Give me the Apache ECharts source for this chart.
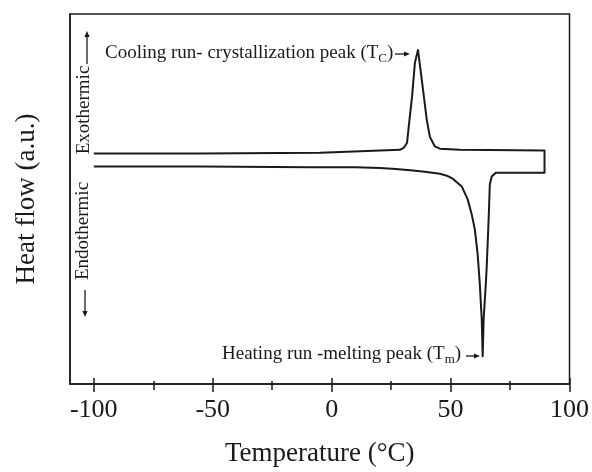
<!DOCTYPE html>
<html><head><meta charset="utf-8">
<script src="https://cdn.jsdelivr.net/npm/echarts@6/dist/echarts.min.js"></script>
<style>html,body{margin:0;padding:0;background:#fff}#c{width:592px;height:472px}</style>
</head><body><div id="c"></div>
<script>
// Heating run (lower trace), temperature in °C, heat flow in a.u.
const heatT  = [-100, -55.1, -9.0, 10.0, 20.3, 27.0, 34.2, 40.0, 45.5, 48.4, 50.9, 54.7, 57.2, 58.9, 60.2, 61.4, 62.3, 63.1, 63.5, 63.9, 64.8, 65.2, 66.0, 66.5, 67.3, 69.0, 89.5];
const heatHF = [58.8, 58.8, 58.6, 58.55, 58.4, 58.1, 57.7, 57.3, 56.8, 56.3, 55.5, 53.4, 49.9, 45.8, 41.8, 35.0, 26.9, 17.5, 7.5, 17.5, 26.9, 31.8, 44.5, 53.9, 56.1, 57.1, 57.1];
// Cooling run (upper trace), from the hold temperature back down
const coolT  = [89.5, 53.9, 45.5, 43.4, 41.3, 40.0, 37.9, 36.3, 35.0, 33.8, 32.5, 31.7, 30.4, 28.7, 6.5, -4.8, -55.1, -100];
const coolHF = [63.1, 63.3, 63.6, 64.2, 66.8, 71.4, 82.2, 90.3, 86.8, 77.6, 70.1, 65.2, 63.9, 63.3, 62.8, 62.5, 62.3, 62.3];
const majorTicks = [-100, -50, 0, 50, 100];
const minorTicks = [-75, -25, 25, 75];
const xMin = -110, xMax = 100, yMin = 0, yMax = 100;

const path = heatT.map((t, i) => [t, heatHF[i]]).concat(coolT.map((t, i) => [t, coolHF[i]]));
const FONT = '"Liberation Serif", "Times New Roman", serif';
const INK = '#1a1a1a';

function tickAxis(values, len, inside) {
  return {
    type: 'value', min: xMin, max: xMax, position: 'bottom', gridIndex: 0,
    axisLine: { show: false, onZero: false }, splitLine: { show: false },
    axisTick: { show: true, inside: inside, length: len, customValues: values, lineStyle: { color: INK, width: 1.5 } },
    axisLabel: { show: false }
  };
}
function arrow(x1, y1, x2, y2) {
  const dx = x2 - x1, dy = y2 - y1, L = Math.hypot(dx, dy), ux = dx / L, uy = dy / L;
  const h = 6, w = 2.6;
  const bx = x2 - ux * h, by = y2 - uy * h;
  return [
    { type: 'line', silent: true, shape: { x1: x1, y1: y1, x2: bx, y2: by }, style: { stroke: INK, lineWidth: 1.3 } },
    { type: 'polygon', silent: true, shape: { points: [[x2, y2], [bx - uy * w, by + ux * w], [bx + uy * w, by - ux * w]] }, style: { fill: INK } }
  ];
}
const annStyle = { font: '19px ' + FONT, fill: INK };
const rich = { s: { fontSize: 13, fontFamily: 'Liberation Serif', lineHeight: 12, verticalAlign: 'bottom', fill: INK, color: INK } };

const chart = echarts.init(document.getElementById('c'), null, { renderer: 'canvas' });
chart.setOption({
  animation: false,
  backgroundColor: '#fff',
  grid: { left: 70, right: 22, top: 14, bottom: 87, show: true, borderColor: INK, borderWidth: 1.5, backgroundColor: 'transparent' },
  xAxis: [
    {
      type: 'value', min: xMin, max: xMax, position: 'bottom',
      axisLine: { show: true, onZero: false, lineStyle: { color: INK, width: 1.5 } },
      axisTick: { show: true, length: 8, customValues: majorTicks, lineStyle: { color: INK, width: 1.5 } },
      axisLabel: { customValues: majorTicks, color: INK, fontFamily: FONT, fontSize: 26, margin: 13 },
      splitLine: { show: false },
      name: 'Temperature (°C)', nameLocation: 'middle', nameGap: 56,
      nameTextStyle: { color: INK, fontFamily: FONT, fontSize: 27 }
    },
    tickAxis(majorTicks, 6, true),
    tickAxis(minorTicks, 6, false),
    tickAxis(minorTicks, 3, true)
  ],
  yAxis: {
    type: 'value', min: yMin, max: yMax, position: 'left',
    axisLine: { show: true, onZero: false, lineStyle: { color: INK, width: 1.5 } },
    axisTick: { show: false }, axisLabel: { show: false }, splitLine: { show: false },
    name: 'Heat flow (a.u.)', nameLocation: 'middle', nameGap: 30,
    nameTextStyle: { color: INK, fontFamily: FONT, fontSize: 27 }
  },
  series: [{
    type: 'line', xAxisIndex: 0, data: path, showSymbol: false, smooth: false,
    lineStyle: { color: INK, width: 2, join: 'round' }
  }],
  graphic: [
    { type: 'text', silent: true, x: 105, y: 53, style: Object.assign({ text: 'Cooling run- crystallization peak (T{s|C})', textVerticalAlign: 'middle', verticalAlign: 'middle', lineHeight: 24, rich: rich }, annStyle) },
    { type: 'text', silent: true, x: 222, y: 354, style: Object.assign({ text: 'Heating run -melting peak (T{s|m})', textVerticalAlign: 'middle', verticalAlign: 'middle', lineHeight: 24, rich: rich }, annStyle) },
    { type: 'text', silent: true, x: 84, y: 110, rotation: Math.PI / 2, style: Object.assign({ text: 'Exothermic', align: 'center', verticalAlign: 'middle' }, annStyle) },
    { type: 'text', silent: true, x: 83, y: 231, rotation: Math.PI / 2, style: Object.assign({ text: 'Endothermic', align: 'center', verticalAlign: 'middle' }, annStyle) }
  ].concat(arrow(395, 54, 410, 54), arrow(466, 356, 480, 356), arrow(87, 64, 87, 31), arrow(85, 290, 85, 317))
});
</script></body></html>
